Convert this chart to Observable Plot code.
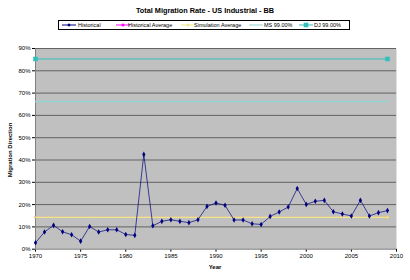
<!DOCTYPE html>
<html><head><meta charset="utf-8">
<script src="https://cdn.jsdelivr.net/npm/d3@7"></script>
<script src="https://cdn.jsdelivr.net/npm/@observablehq/plot@0.6"></script>
<style>
body{margin:0;background:#fff;font-family:"Liberation Sans",Arial,sans-serif;}
#wrap{position:relative;width:410px;height:280px;overflow:hidden;}
#title{position:absolute;left:0;width:410px;top:6px;text-align:center;font-weight:bold;font-size:7.3px;color:#000;}
#legend{position:absolute;left:58px;top:20px;width:290px;height:8px;border:1px solid #000;font-size:5.5px;color:#000;}
.item{position:absolute;top:0;height:8px;line-height:8px;white-space:nowrap;}
.sw{position:absolute;top:0;}
#ylab{position:absolute;left:10px;top:150px;transform:translate(-50%,-50%) rotate(-90deg);font-weight:bold;font-size:6px;white-space:nowrap;}
#xlab{position:absolute;left:215px;top:264px;transform:translateX(-50%);font-weight:bold;font-size:6px;}
#chart{position:absolute;left:0;top:0;}
</style></head>
<body>
<div id="wrap">
<div id="chart"></div>
<div id="title">Total Migration Rate - US Industrial - BB</div>
<div id="legend"></div>
<div id="ylab">Migration Direction</div>
<div id="xlab">Year</div>
</div>
<script>
const years = [1970,1971,1972,1973,1974,1975,1976,1977,1978,1979,1980,1981,1982,1983,1984,1985,1986,1987,1988,1989,1990,1991,1992,1993,1994,1995,1996,1997,1998,1999,2000,2001,2002,2003,2004,2005,2006,2007,2008,2009];
const historical = [0.029,0.077,0.107,0.078,0.065,0.036,0.102,0.077,0.087,0.087,0.066,0.062,0.425,0.105,0.125,0.132,0.125,0.119,0.132,0.192,0.207,0.197,0.131,0.131,0.114,0.111,0.147,0.167,0.189,0.272,0.201,0.215,0.219,0.168,0.158,0.149,0.219,0.149,0.164,0.173];
const historicalAverage = 0.143;
const simulationAverage = 0.143;
const ms99 = 0.662;
const dj99 = 0.853;
const xTicks = [1970,1975,1980,1985,1990,1995,2000,2005,2010];
const yTicks = [0,0.1,0.2,0.3,0.4,0.5,0.6,0.7,0.8,0.9];
const seriesNames = ["Historical","Historical Average","Simulation Average","MS 99.00%","DJ 99.00%"];

const colors = {hist:"#000080", havg:"#ff00ff", savg:"#ece888", ms:"#8fd4d0", dj:"#33c0bc"};
const span = [years[0], years[years.length-1]];
const flat = v => span.map(y => ({year:y, v}));

const chart = Plot.plot({
  width:410, height:280,
  marginTop:48, marginLeft:35, marginRight:14, marginBottom:31.3,
  style:{background:"transparent", fontFamily:"'Liberation Sans',Arial,sans-serif", fontSize:"6px", color:"#000"},
  x:{domain:[1970,2010], ticks:xTicks, tickFormat:d=>String(d), tickSize:3, tickPadding:2, label:null},
  y:{domain:[0,0.9], ticks:yTicks, tickFormat:d=>Math.round(d*100)+"%", tickSize:3, tickPadding:2, label:null},
  marks:[
    Plot.frame({fill:"#c0c0c0", stroke:"none"}),
    Plot.ruleY(yTicks.filter(d=>d>0), {stroke:"#626262", strokeWidth:1}),
    Plot.ruleX([1970], {stroke:"#808080"}),
    Plot.ruleY([0], {stroke:"#808080"}),
    Plot.line(flat(ms99), {x:"year", y:"v", stroke:colors.ms, strokeWidth:1.4}),
    Plot.line(flat(dj99), {x:"year", y:"v", stroke:colors.dj, strokeWidth:1}),
    Plot.dot(flat(dj99), {x:"year", y:"v", symbol:"square", r:2.6, fill:colors.dj, stroke:"none"}),
    Plot.line(flat(historicalAverage), {x:"year", y:"v", stroke:colors.havg, strokeWidth:0.8}),
    Plot.dot([span[0]], {x:d=>d, y:()=>historicalAverage, symbol:"square", r:1.2, fill:"#e08858"}),
    Plot.line(flat(simulationAverage), {x:"year", y:"v", stroke:colors.savg, strokeWidth:1.4}),
    Plot.dot([span[1]], {x:d=>d, y:()=>simulationAverage, r:1.6, fill:colors.savg, stroke:"#e0b070", strokeWidth:0.5}),
    Plot.line(years.map((y,i)=>({year:y, v:historical[i]})), {x:"year", y:"v", stroke:colors.hist, strokeWidth:0.7}),
    Plot.dot(years.map((y,i)=>({year:y, v:historical[i]})), {x:"year", y:"v", symbol:"diamond", r:1.7, fill:colors.hist, stroke:"none"})
  ]
});
document.getElementById("chart").appendChild(chart);

// legend
const leg = document.getElementById("legend");
const legPos = [[2,19],[56,69],[121,135],[189,205],[239,255]];
const legCol = [colors.hist, colors.havg, colors.savg, colors.ms, colors.dj];
const legMark = ["diamond","square","circle",null,"square"];
seriesNames.forEach((name,i)=>{
  const [sx,tx] = legPos[i];
  const svgNS="http://www.w3.org/2000/svg";
  const s=document.createElementNS(svgNS,"svg");
  s.setAttribute("width",16);s.setAttribute("height",8);
  s.setAttribute("class","sw");s.style.left=sx+"px";
  const l=document.createElementNS(svgNS,"line");
  l.setAttribute("x1",1);l.setAttribute("x2",15);l.setAttribute("y1",4);l.setAttribute("y2",4);
  l.setAttribute("stroke",legCol[i]);l.setAttribute("stroke-width",1);
  s.appendChild(l);
  if(legMark[i]){
    let m;
    if(legMark[i]==="diamond"){m=document.createElementNS(svgNS,"path");m.setAttribute("d","M8,2.3L9.7,4L8,5.7L6.3,4Z");}
    else if(legMark[i]==="square"){m=document.createElementNS(svgNS,"rect");const r=i===4?2.3:1.3;m.setAttribute("x",8-r);m.setAttribute("y",4-r);m.setAttribute("width",2*r);m.setAttribute("height",2*r);}
    else {m=document.createElementNS(svgNS,"circle");m.setAttribute("cx",8);m.setAttribute("cy",4);m.setAttribute("r",1.5);}
    m.setAttribute("fill",legCol[i]);
    s.appendChild(m);
  }
  leg.appendChild(s);
  const t=document.createElement("div");t.className="item";t.style.left=tx+"px";t.textContent=name;
  leg.appendChild(t);
});
</script>
</body></html>
